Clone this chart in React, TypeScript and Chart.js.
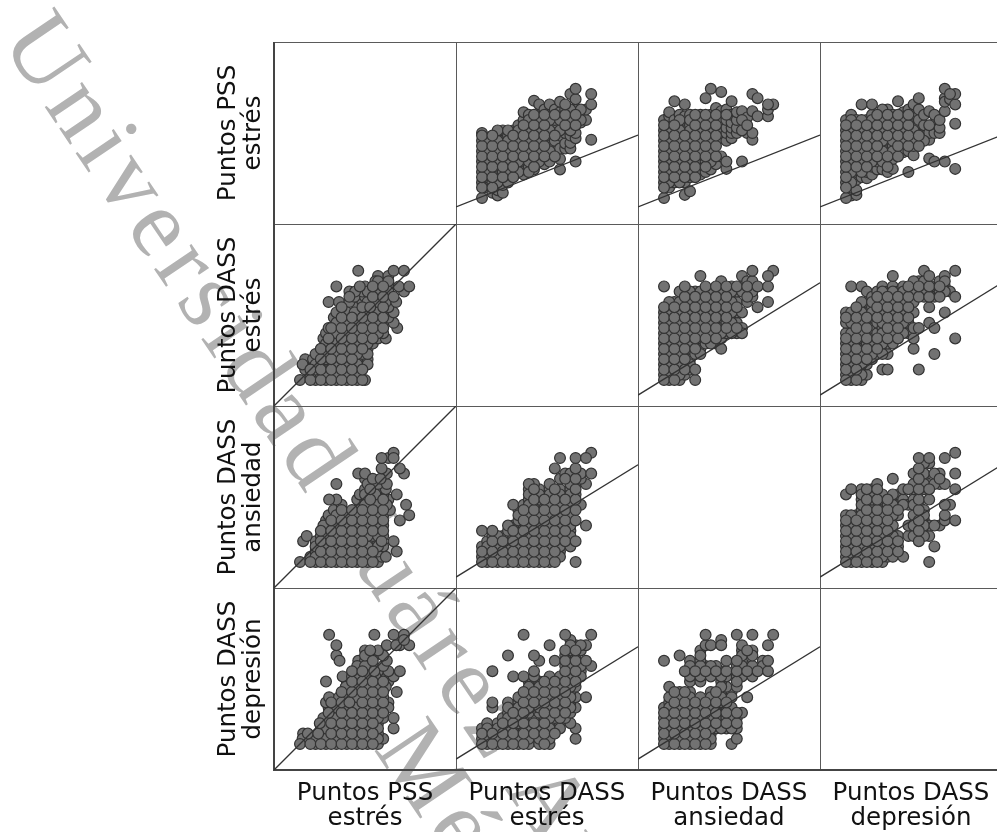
import React, { useEffect, useRef } from "react";
import { Chart, registerables } from "chart.js";

Chart.register(...registerables);

const variables = [["Puntos PSS", "estrés"], ["Puntos DASS", "estrés"], ["Puntos DASS", "ansiedad"], ["Puntos DASS", "depresión"]];

// Each list: index = score on the higher variable, entries = scores on the lower variable.
const pssVsStress: number[][] = [
  [0,2,3,4,5,6,7,8,9,10,11,12,12.5],
  [2,3.5,4,5,6,7,8,9,10,11],
  [1,2,3,4,5,6,7,8,9,10,11,12],
  [0.5,1.5,3,4,5.5,6,7,8,9,10,11,12,13],
  [1,2.5,4,5,6,7,8,9,10,11,13],
  [3,4,5,6,7,8,9,10,11,12,13],
  [4,5,6,7,8,9,10,11,12,13],
  [5,6,7,8,9,10,11,12,13,14],
  [4.5,5.5,6.5,7,8,9,10,11,12,13,14,15,16.5],
  [5,6,7,8,9,10,11,12,13,14,15,16],
  [5.5,6,7,8,9,10,11,12,13,14,15,16,18.7],
  [7,8,9,10,11,12,13,14,15,16,18],
  [6.5,8,9,10,11,12,13,14,15,16,17],
  [7,8,9,10.5,12,13,14,15,16,18],
  [8,11,12,13.5,14.5,15,16,17],
  [5.5,7.5,9.5,12,13,15,16.5,18.5],
  [9.5,10.5,12.5,14,15,16,17,18],
  [9.5,10.6,12,13,15,16,17,20],
  [7,11.5,12.5,14,15,16,17,19,21],
  [14.5,15,17],
  [15,17],
  [11.2,18,20],
];
const pssVsAnxiety: number[][] = [
  [0,2,3,4,5,6,7,8,9,10,11,12,13,14,15],
  [2,3,4,5,6,7,8,9,10,11,12,13,14,15.7,16.5],
  [3,4,5,6,7,8,9,10,11,12,13,14,15,18.6],
  [3,4,5,6,7,8,9,10,11,12,13,14,15,16],
  [0.6,3,4,5,6,7,8,9,10,11,12,13,15.7,18],
  [1.3,4,5,6,7,8,9,10,11,12,13,14,15,16],
  [4,5,6,7,8,9,10,11,12,13,14,15,16],
  [4.5,5.5,6.5,7.5,9,10,11,12,13,14,15,16],
  [5,6,7,8,9,10,11,12,13,14,15,16,19.2],
  [5.5,7,8,9,10,11,12,13,14,15,16,21],
  [6.5,8,10,11,12,13,14,15,16,17.3],
  [8,11.5,12.5,14.8,16.7,20.4],
  [5.6,7,11,12.5,13.5,15,16,17],
  [11.5,12.5,13.5,14.5,16,18.6],
  [12.5,13.5,15,16.5],
  [7,13,15,16.7],
  [12.5,14,15.5],
  [11.2,12.5,16.7,20],
  [15.7,19.2],
  [],
  [15.7,17,18],
  [18],
];
const pssVsDepression: number[][] = [
  [0,2,3,4,5,6,7,8,9,10,11,12,13,14,15],
  [0.5,2,3,4,5,6,7,8,9,10,11,12,13,15,16],
  [0.6,1.5,3.5,5,6,7,8,9,10,11,12,14,15],
  [4,5,6,7,8,9,10,11,12,13,14,15,18],
  [3.8,5,6,7,8,9,10,11,12,13,14,15],
  [4.5,6,7,8,9,10,11,12,13,14,15,16,18],
  [5.5,7,8,9,10,11,12,13,14,15,16],
  [5.5,7,8,9,10,11,12,13,14,15,16,17],
  [5,6,7,8,9.5,11,12,13,14,15,16,17],
  [5.6,7.5,9,10,11,12,13,14,15,16],
  [8,9,10,11,12,13,14,15,16,18.6],
  [8.8,11,12,13,14,15,16.5],
  [5,9,10,11,12,13,14,15,16,17],
  [8.2,10,11,12,13,14.5,16,18],
  [10,12,13,14.3,15,17,19.2],
  [11,12.5,14,16],
  [7.6,11.2,12.5,14,16.7],
  [7,12.5,14.3,16],
  [12.5,13.5,15],
  [7,16.7,19.2,21,18.5],
  [20,19],
  [5.6,14.3,18,20],
];
const stressVsAnxiety: number[][] = [
  [0,1,2,3,4,5,6,7,8,9,10,11,12,13,14,18],
  [0,1,2,3,4,5,6,7,8,9,10,11,12,13,14,15],
  [0,1,2,3,4,5,6,7,8,9,10,11,12,13,14,15],
  [0,1,2,3,4,5,6,7,8,9,10,11,12,13,14,15,17],
  [1,2,3,4,5,6,7,8,9,10,11,12,13,14,15,16,18],
  [2,3,4,6,7,8,9,10,11,12,13,14,15,16,17],
  [0,2,5,6,7,8,9,10,11,12,13,14,15,16,17],
  [5,6,8,9,10,11,12,13,14,15,16,17,20],
  [7,8,9,10,11,12,13,14,15,16,17,18],
  [7,8,9,10,11,12,13,14,15,16,17],
  [7,8,9,10,11,12,13,14,15,16,17,18],
  [6,8,9,10,12,13,14,15,16,17,19],
  [9,10,11,12,13,14,15,16,17,18],
  [9,10,11,12,13,14,15,16,17,18],
  [9,10,11,13,14,15,17,18],
  [9,10,13,17,18,20],
  [15,16,17,18,19],
  [16,17,18,19,21],
  [14,18],
  [],
  [15,18,20],
  [21],
];
const stressVsDepression: number[][] = [
  [0,1,2,3,4,5,6,7,8,9,11,12,13],
  [0,1,2,3,4,5,6,7,8,9,11,12,13,18],
  [0,1,2,3,4,5,6,7,8,9,10,11,12,13,14],
  [0,1,2,3,4,5,6,8,9,10,11,12,13,14,15,18],
  [1,3,4,6,7,8,10,12,13,15,17],
  [4,5,6,7,8,10,12,13,14,15,16],
  [5,6,7,8,9,11,12,13,14,15,16,17],
  [2,5,6,7,8,9,10,11,12,13,14,15,16,17,18],
  [2,5,7,8,9,10,11,12,13,14,15,16,17],
  [7,8,9,10,11,12,13,14,15,17,18,20],
  [8,9,10,11,12,13,14,15,16,17],
  [9,11,13,14,15,16,17,18],
  [9,11,12,13,14,15,16,17,18],
  [6,8,10,13,15,16,17,18,19],
  [2,10,16,17,18,19],
  [16,17,18,19,21],
  [11,14,16,17,18,20],
  [5,10,16,18],
  [16,17,18,19],
  [13,17,18,19,20],
  [17],
  [8,16,21],
];
const anxietyVsDepression: number[][] = [
  [0,1,2,3,4,5,6,7,8,9,13],
  [0,1,2,3,4,5,6,7,8,9,14],
  [0,1,2,3,4,5,6,7,8,9],
  [0,1,2,3,4,5,6,7,8,9,10,11,12,13,14],
  [0,1,2,3,4,5,6,7,8,9,10,12,13,14],
  [0,1,2,3,4,5,6,7,8,9,10,12,13,14],
  [0,1,2,3,4,5,6,7,8,9,10,12,13,14,15],
  [0,1,2,3,4,5,6,7,8,9,10,12,13],
  [1,2,3,4,5,6,7,8,9,10,11,12],
  [1,3,4,5,7,9,10,11,13,16],
  [2,3,4,5,9,10,11,13],
  [1,11,12,14],
  [5,7,11,14],
  [5,7,9,11,12,14,15,17],
  [4,5,6,7,8,9,10,11,12,14,15,16,17,18,20],
  [5,7,8,9,10,14,15,16,17,19],
  [0,5,7,12,14,15,19,20],
  [3,7,15,17],
  [7,15,16,17],
  [8,9,11,15,20],
  [11],
  [8,14,17,21],
];

// [higher variable, lower variable, rows]
const pairs: [number, number, number[][]][] = [
  [1, 0, pssVsStress], [2, 0, pssVsAnxiety], [3, 0, pssVsDepression],
  [2, 1, stressVsAnxiety], [3, 1, stressVsDepression], [3, 2, anxietyVsDepression],
];

const axisMin = -5;
const axisMax = 30;
// Reference-line end values: first column, top row, all other cells.
const lineFirstColumn = [-5, 30];
const lineTopRow = [-1.7, 12.1];
const lineOther = [-2.9, 18.7];

const framePlugin = {
  id: "frame",
  beforeDatasetsDraw(chart: any) {
    const { ctx, chartArea: a, scales } = chart;
    ctx.save();
    ctx.strokeStyle = "#5a5a5a";
    ctx.lineWidth = 1;
    ctx.beginPath();
    for (let i = 1; i < 4; i++) {
      const x = Math.round(scales[`x${i}`].left) + 0.5;
      ctx.moveTo(x, a.top);
      ctx.lineTo(x, a.bottom);
      const y = Math.round(scales[`y${i}`].top) + 0.5;
      ctx.moveTo(a.left, y);
      ctx.lineTo(a.right, y);
    }
    ctx.moveTo(a.left, a.top + 0.5);
    ctx.lineTo(a.right, a.top + 0.5);
    ctx.stroke();
    ctx.strokeStyle = "#444";
    ctx.lineWidth = 2;
    ctx.beginPath();
    ctx.moveTo(a.left, a.top);
    ctx.lineTo(a.left, a.bottom);
    ctx.lineTo(a.right, a.bottom);
    ctx.stroke();
    ctx.restore();
  },
};

const titleFont = { family: "'DejaVu Sans'", size: 24.5, lineHeight: 1.02 };

// Draw order only: a sparser set of points goes last so its circles stay whole on top.
const drawLast = (p: { x: number; y: number }) => (Math.round(p.x) % 2 === 0 && p.y % 2 === 0 ? 2 : Math.round(p.x) % 2 === 1 && p.y % 2 === 1 ? 1 : 0);
const byDrawOrder = (a: { x: number; y: number }, b: { x: number; y: number }) => drawLast(a) - drawLast(b);

function buildDatasets() {
  const sets: any[] = [];
  for (const [hi, lo, rows] of pairs) {
    const lower: { x: number; y: number }[] = [];
    const upper: { x: number; y: number }[] = [];
    rows.forEach((row, y) => row.forEach((x) => {
      lower.push({ x, y });
      upper.push({ x: y, y: x });
    }));
    lower.sort(byDrawOrder);
    upper.sort(byDrawOrder);
    for (const [r, c, data] of [[hi, lo, lower], [lo, hi, upper]] as [number, number, any[]][]) {
      sets.push({
        type: "scatter", data, xAxisID: `x${c}`, yAxisID: `y${r}`, order: 1,
        pointRadius: 5.4, pointBorderWidth: 1.2,
        pointBackgroundColor: "#727272", pointBorderColor: "#333333",
      });
      const ends = c === 0 ? lineFirstColumn : r === 0 ? lineTopRow : lineOther;
      sets.push({
        type: "line", xAxisID: `x${c}`, yAxisID: `y${r}`, order: 0,
        data: [{ x: axisMin, y: ends[0] }, { x: axisMax, y: ends[1] }],
        borderColor: "#333", borderWidth: 1.3, pointRadius: 0,
      });
    }
  }
  return sets;
}

function buildScales() {
  const scales: any = {};
  variables.forEach((text, i) => {
    const base = {
      type: "linear", min: axisMin, max: axisMax,
      grid: { display: false }, border: { display: false }, ticks: { display: false },
    };
    scales[`x${i}`] = {
      ...base, position: "bottom", stack: "columns", stackWeight: 1, weight: i,
      title: { display: true, text, color: "#111", font: titleFont, padding: { top: 0, bottom: 0.5 } },
      afterFit: (s: any) => { s.height = 62; },
    };
    scales[`y${i}`] = {
      ...base, position: "left", stack: "rows", stackWeight: 1, weight: 3 - i,
      title: { display: true, text, color: "#111", font: titleFont, padding: { top: 16, bottom: 0 } },
      afterFit: (s: any) => { s.width = 74; },
    };
  });
  return scales;
}

export default function App() {
  const ref = useRef<HTMLCanvasElement>(null);
  useEffect(() => {
    const chart = new Chart(ref.current!, {
      type: "scatter",
      data: { datasets: buildDatasets() },
      options: {
        animation: false, responsive: false,
        layout: { autoPadding: false, padding: { top: 42, left: 200, right: 0, bottom: 0 } },
        plugins: { legend: { display: false }, tooltip: { enabled: false } },
        scales: buildScales(),
      },
      plugins: [framePlugin],
    } as any);
    return () => chart.destroy();
  }, []);
  const mark = { position: "absolute", left: 0, top: 0, transformOrigin: "0 0", whiteSpace: "nowrap",
    fontFamily: "'Liberation Serif'", color: "#b2b2b2", lineHeight: 1 } as React.CSSProperties;
  return (
    <div style={{ position: "fixed", left: 0, top: 0, width: 997, height: 832, overflow: "hidden", background: "#fff" }}>
      <div style={{ ...mark, fontSize: 98, letterSpacing: 6.8, transform: "translate(68px,-5px) rotate(56deg)" }}>Universidad Juárez Autónoma</div>
      <div style={{ ...mark, fontSize: 98, letterSpacing: 6.8, transform: "translate(441px,703px) rotate(56deg)" }}>México</div>
      <canvas ref={ref} width={1002} height={832} style={{ position: "absolute", left: 0, top: 0, display: "block", filter: "blur(0.4px)" }} />
    </div>
  );
}
